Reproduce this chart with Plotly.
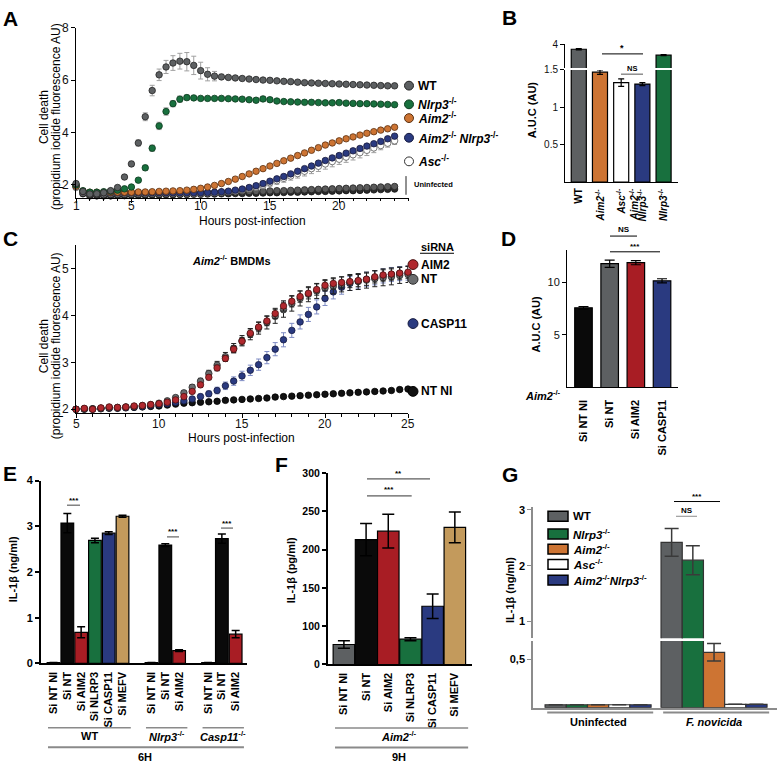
import plotly.graph_objects as go

W, H = 781, 771
FONT = "Liberation Sans, Arial, sans-serif"


def fx(x):
    return x / W


def fy(y):
    return 1 - y / H


# ---------------- Panel A data (hours 1..24, every 0.5 h) ----------------
HOURS_A = [1 + 0.5 * i for i in range(47)]
A_TICKS = [1, 5, 10, 15, 20]
WT_A = [2.05, 1.75, 1.65, 1.66, 1.70, 1.78, 1.90, 2.30, 2.80, 3.60,
        4.60, 5.60, 6.20, 6.50, 6.65, 6.72, 6.70, 6.56, 6.36, 6.22,
        6.15, 6.12, 6.10, 6.08, 6.06, 6.04, 6.02, 6.00, 5.99, 5.97,
        5.95, 5.94, 5.92, 5.90, 5.89, 5.88, 5.87, 5.86, 5.85, 5.84,
        5.83, 5.82, 5.81, 5.80, 5.79, 5.78, 5.78]
WT_A_ERR = [0.05, 0.05, 0.04, 0.04, 0.04, 0.05, 0.06, 0.08, 0.10, 0.12,
            0.15, 0.20, 0.22, 0.25, 0.28, 0.30, 0.35, 0.35, 0.32, 0.25,
            0.18, 0.10, 0.06, 0.05, 0.05, 0.05, 0.05, 0.05, 0.05, 0.05,
            0.05, 0.05, 0.05, 0.05, 0.05, 0.05, 0.05, 0.05, 0.05, 0.05,
            0.05, 0.05, 0.05, 0.05, 0.05, 0.05, 0.05]
NLRP3_A = [2.00, 1.78, 1.72, 1.72, 1.74, 1.76, 1.80, 1.85, 1.92, 2.18,
           2.65, 3.40, 4.25, 4.80, 5.10, 5.27, 5.33, 5.32, 5.30, 5.30,
           5.30, 5.30, 5.29, 5.28, 5.27, 5.25, 5.23, 5.28, 5.25, 5.20,
           5.18, 5.17, 5.16, 5.15, 5.15, 5.14, 5.13, 5.13, 5.14, 5.12,
           5.11, 5.10, 5.10, 5.09, 5.08, 5.07, 5.06]
NLRP3_A_ERR = [0.04, 0.04, 0.03, 0.03, 0.03, 0.03, 0.04, 0.05, 0.06, 0.08,
               0.10, 0.12, 0.14, 0.14, 0.12, 0.12, 0.10, 0.08, 0.07, 0.06,
               0.06, 0.06, 0.06, 0.06, 0.06, 0.06, 0.08, 0.10, 0.08, 0.06,
               0.06, 0.06, 0.06, 0.06, 0.06, 0.06, 0.06, 0.06, 0.06, 0.06,
               0.06, 0.06, 0.06, 0.06, 0.06, 0.06, 0.06]
AIM2_A = [1.95, 1.76, 1.72, 1.72, 1.72, 1.72, 1.72, 1.72, 1.72, 1.73,
          1.73, 1.74, 1.75, 1.76, 1.77, 1.78, 1.80, 1.83, 1.87, 1.92,
          1.98, 2.05, 2.13, 2.22, 2.32, 2.42, 2.52, 2.62, 2.72, 2.82,
          2.92, 3.02, 3.12, 3.22, 3.32, 3.42, 3.52, 3.60, 3.68, 3.76,
          3.83, 3.90, 3.97, 4.03, 4.09, 4.14, 4.20]
AIM2_A_ERR = 0.05
AN_A = [1.95, 1.74, 1.70, 1.70, 1.70, 1.70, 1.70, 1.70, 1.70, 1.70,
        1.70, 1.70, 1.70, 1.70, 1.70, 1.70, 1.70, 1.70, 1.70, 1.71,
        1.72, 1.74, 1.76, 1.80, 1.84, 1.90, 1.97, 2.05, 2.14, 2.23,
        2.32, 2.42, 2.52, 2.62, 2.72, 2.83, 2.93, 3.03, 3.12, 3.21,
        3.30, 3.39, 3.48, 3.57, 3.66, 3.76, 3.86]
AN_A_ERR = 0.06
ASC_A = [1.90, 1.72, 1.68, 1.68, 1.68, 1.68, 1.68, 1.68, 1.68, 1.68,
         1.68, 1.68, 1.68, 1.68, 1.68, 1.68, 1.68, 1.68, 1.68, 1.69,
         1.70, 1.72, 1.74, 1.77, 1.81, 1.86, 1.92, 1.99, 2.08, 2.16,
         2.25, 2.34, 2.43, 2.52, 2.62, 2.71, 2.80, 2.89, 2.98, 3.06,
         3.15, 3.23, 3.32, 3.41, 3.50, 3.59, 3.68]
ASC_A_ERR = [0.04, 0.03, 0.03, 0.03, 0.03, 0.03, 0.03, 0.03, 0.03, 0.03,
             0.03, 0.03, 0.03, 0.03, 0.03, 0.03, 0.03, 0.04, 0.04, 0.05,
             0.05, 0.06, 0.07, 0.08, 0.09, 0.10, 0.11, 0.12, 0.13, 0.14,
             0.15, 0.16, 0.17, 0.18, 0.19, 0.20, 0.20, 0.20, 0.20, 0.20,
             0.20, 0.20, 0.20, 0.18, 0.16, 0.15, 0.14]
UNINF1_A = [2.00, 1.70, 1.62, 1.62, 1.62, 1.63, 1.63, 1.64, 1.64, 1.65,
            1.65, 1.66, 1.66, 1.67, 1.67, 1.68, 1.68, 1.69, 1.70, 1.70,
            1.71, 1.72, 1.72, 1.73, 1.74, 1.75, 1.75, 1.76, 1.77, 1.78,
            1.78, 1.79, 1.80, 1.81, 1.82, 1.83, 1.84, 1.85, 1.86, 1.87,
            1.88, 1.89, 1.90, 1.91, 1.92, 1.93, 1.94]
UNINF2_A = [1.95, 1.66, 1.58, 1.58, 1.58, 1.58, 1.59, 1.59, 1.60, 1.60,
            1.60, 1.61, 1.61, 1.62, 1.62, 1.63, 1.63, 1.64, 1.64, 1.65,
            1.65, 1.66, 1.66, 1.67, 1.67, 1.68, 1.68, 1.69, 1.70, 1.70,
            1.71, 1.72, 1.72, 1.73, 1.74, 1.75, 1.75, 1.76, 1.77, 1.78,
            1.78, 1.79, 1.80, 1.81, 1.82, 1.83, 1.84]
UNINF_A_ERR = 0.05

# ---------------- Panel B data ----------------
B_GENOTYPES = ["WT", "Aim2", "Asc", "Aim2 Nlrp3", "Nlrp3"]
B_AUC = [3.52, 1.47, 1.33, 1.31, 2.94]
B_ERR = [0.06, 0.03, 0.05, 0.02, 0.05]

# ---------------- Panel C data (hours 5..25, every 0.5 h) ----------------
HOURS_C = [5 + 0.5 * i for i in range(41)]
C_TICKS = [5, 10, 15, 20, 25]
RED_C = [2.00, 2.02, 2.00, 2.03, 2.05, 2.04, 2.05, 2.07, 2.08, 2.10,
         2.12, 2.15, 2.20, 2.27, 2.38, 2.52, 2.68, 2.88, 3.08, 3.28,
         3.45, 3.62, 3.75, 3.88, 4.04, 4.20, 4.30, 4.40, 4.47, 4.55,
         4.64, 4.68, 4.70, 4.72, 4.74, 4.77, 4.82, 4.86, 4.88, 4.90,
         4.92]
RED_C_ERR = [0.02, 0.02, 0.02, 0.02, 0.02, 0.02, 0.02, 0.02, 0.02, 0.02,
             0.03, 0.03, 0.03, 0.04, 0.04, 0.05, 0.05, 0.06, 0.06, 0.07,
             0.08, 0.09, 0.10, 0.10, 0.11, 0.11, 0.12, 0.12, 0.12, 0.12,
             0.12, 0.12, 0.12, 0.13, 0.13, 0.13, 0.13, 0.13, 0.13, 0.13,
             0.13]
GREY_C = [2.00, 2.01, 2.01, 2.02, 2.04, 2.04, 2.05, 2.06, 2.08, 2.10,
          2.13, 2.18, 2.25, 2.35, 2.47, 2.60, 2.76, 2.94, 3.12, 3.30,
          3.46, 3.60, 3.73, 3.85, 3.98, 4.12, 4.25, 4.36, 4.45, 4.52,
          4.58, 4.62, 4.66, 4.70, 4.72, 4.75, 4.78, 4.80, 4.82, 4.85,
          4.87]
GREY_C_ERR = [0.02, 0.02, 0.02, 0.02, 0.02, 0.02, 0.02, 0.02, 0.02, 0.02,
              0.03, 0.03, 0.04, 0.04, 0.05, 0.06, 0.07, 0.08, 0.09, 0.10,
              0.11, 0.12, 0.13, 0.14, 0.15, 0.16, 0.16, 0.16, 0.16, 0.16,
              0.16, 0.16, 0.16, 0.17, 0.17, 0.17, 0.17, 0.17, 0.17, 0.17,
              0.17]
BLUE_C = [2.00, 2.01, 2.00, 2.02, 2.03, 2.03, 2.04, 2.05, 2.06, 2.08,
          2.10, 2.12, 2.15, 2.18, 2.22, 2.27, 2.33, 2.40, 2.50, 2.60,
          2.71, 2.83, 2.95, 3.10, 3.28, 3.48, 3.68, 3.86, 4.02, 4.18,
          4.36, 4.50, 4.60, 4.68, 4.73, 4.77, 4.80, 4.84, 4.87, 4.89,
          4.90]
BLUE_C_ERR = [0.02, 0.02, 0.02, 0.02, 0.02, 0.02, 0.02, 0.02, 0.02, 0.02,
              0.02, 0.03, 0.03, 0.04, 0.04, 0.05, 0.06, 0.07, 0.08, 0.09,
              0.10, 0.11, 0.12, 0.13, 0.14, 0.15, 0.15, 0.15, 0.15, 0.15,
              0.15, 0.15, 0.15, 0.15, 0.15, 0.15, 0.15, 0.15, 0.15, 0.15,
              0.15]
BLACK_C = [2.00, 2.00, 2.01, 2.01, 2.02, 2.02, 2.03, 2.04, 2.05, 2.06,
           2.07, 2.09, 2.11, 2.13, 2.14, 2.15, 2.16, 2.17, 2.19, 2.20,
           2.21, 2.22, 2.23, 2.24, 2.26, 2.27, 2.28, 2.29, 2.30, 2.31,
           2.32, 2.33, 2.34, 2.35, 2.36, 2.37, 2.38, 2.39, 2.40, 2.42,
           2.43]
BLACK_C_ERR = 0.03

# ---------------- Panel D data ----------------
D_LABELS = ["Si NT NI", "Si NT", "Si AIM2", "Si CASP11"]
D_AUC = [7.58, 11.78, 11.88, 10.15]
D_ERR = [0.12, 0.35, 0.20, 0.20]

# ---------------- Panel E data ----------------
E_GROUPS = ["WT", "Nlrp3", "Casp11"]
E_LABELS = [["Si NT NI", "Si NT", "Si AIM2", "Si NLRP3", "Si CASP11", "Si MEFV"],
            ["Si NT NI", "Si NT", "Si AIM2"],
            ["Si NT NI", "Si NT", "Si AIM2"]]
E_VALUES = [[0.02, 3.07, 0.68, 2.69, 2.85, 3.22],
            [0.02, 2.59, 0.28],
            [0.02, 2.73, 0.64]]
E_ERR = [[0.0, 0.21, 0.12, 0.05, 0.03, 0.02],
         [0.0, 0.03, 0.02],
         [0.0, 0.10, 0.08]]

# ---------------- Panel F data ----------------
F_LABELS = ["Si NT NI", "Si NT", "Si AIM2", "Si NLRP3", "Si CASP11", "Si MEFV"]
F_VALUES = [76, 213, 224, 83, 126, 229]
F_ERR = [5, 21, 22, 2, 16, 20]
F_TICKVALS = [50, 100, 150, 200, 250, 300]
F_TICKTEXT = ["0", "100", "150", "200", "250", "300"]

# ---------------- Panel G data ----------------
G_GENOTYPES = ["WT", "Nlrp3", "Aim2", "Asc", "Aim2Nlrp3"]
G_CONDITIONS = ["Uninfected", "F. novicida"]
G_UNINF = [0.03, 0.03, 0.03, 0.03, 0.03]
G_FNOV = [2.42, 2.10, 0.57, 0.035, 0.035]
G_FNOV_ERR = [0.25, 0.26, 0.09, None, None]

# ---------------- colours ----------------
C_GREY = "#5d6062"
C_GREEN = "#18703e"
C_ORANGE = "#cd7433"
C_NAVY = "#2a3a80"
C_RED = "#a81d24"
C_TAN = "#c39a5c"

fig = go.Figure()


def curve(x, y, err, fill, edge, errcolor, xa, ya, size=6.5, lw=0.8):
    if isinstance(err, (list, tuple)):
        e = dict(type="data", array=err, color=errcolor, thickness=1, width=2.5)
    else:
        e = dict(type="constant", value=err, color=errcolor, thickness=1, width=2.5)
    fig.add_trace(go.Scatter(x=x, y=y, mode="markers", xaxis=xa, yaxis=ya,
                             marker=dict(size=size, color=fill, line=dict(color=edge, width=lw)),
                             error_y=e, cliponaxis=False, showlegend=False, hoverinfo="skip"))


def bars(x, y, colors, err, xa, ya, width, errcolor="black", lcolor="black", lw=1.2,
         errw=4, errt=1.2):
    kw = {}
    if err is not None:
        kw["error_y"] = dict(type="data", array=err, color=errcolor, thickness=errt, width=errw)
    fig.add_trace(go.Bar(x=x, y=y, width=width, xaxis=xa, yaxis=ya,
                         marker=dict(color=colors, line=dict(color=lcolor, width=lw)),
                         showlegend=False, hoverinfo="skip", **kw))


# ---- A
curve(HOURS_A, UNINF2_A, UNINF_A_ERR, "#2b2b2b", "#111111", "#888888", "x", "y")
curve(HOURS_A, UNINF1_A, UNINF_A_ERR, "#5a5a5a", "#222222", "#999999", "x", "y")
curve(HOURS_A, ASC_A, ASC_A_ERR, "white", "#555555", "#a0a0a0", "x", "y")
curve(HOURS_A, AN_A, AN_A_ERR, C_NAVY, "#1a1a3a", "#a0a0a0", "x", "y")
curve(HOURS_A, AIM2_A, AIM2_A_ERR, C_ORANGE, "#5a3010", "#a0a0a0", "x", "y")
curve(HOURS_A, NLRP3_A, NLRP3_A_ERR, C_GREEN, "#0c3a1e", "#a0a0a0", "x", "y")
curve(HOURS_A, WT_A, WT_A_ERR, C_GREY, "#252525", "#a0a0a0", "x", "y")

# ---- B (broken axis: lower y2, upper y9)
B_X = list(range(len(B_GENOTYPES)))
B_COLORS = [C_GREY, C_ORANGE, "white", C_NAVY, C_GREEN]
bars(B_X, B_AUC, B_COLORS, B_ERR, "x2", "y2", 0.71, errw=3, lw=1.2)
bars(B_X, B_AUC, B_COLORS, B_ERR, "x2", "y9", 0.71, errw=3, lw=1.2)

# ---- C
curve(HOURS_C, BLACK_C, BLACK_C_ERR, "#111111", "#000000", "#000000", "x3", "y3")
curve(HOURS_C, BLUE_C, BLUE_C_ERR, C_NAVY, "#151a40", "#7f8cc4", "x3", "y3")
curve(HOURS_C, GREY_C, GREY_C_ERR, "#6a6c6e", "#2a2a2a", "#222222", "x3", "y3")
curve(HOURS_C, RED_C, RED_C_ERR, "#b0282e", "#4a1010", "#222222", "x3", "y3")

# ---- D
D_X = list(range(len(D_LABELS)))
bars(D_X, D_AUC, ["#0a0a0a", C_GREY, C_RED, C_NAVY], D_ERR, "x4", "y4", 0.67, errw=5)

# ---- E
E_GAP = 1.1
E_POS, E_TXT, E_VAL, E_ER, E_COL = [], [], [], [], []
E_COLOR_BY_LABEL = {"Si NT NI": "#0a0a0a", "Si NT": "#0a0a0a", "Si AIM2": C_RED,
                    "Si NLRP3": C_GREEN, "Si CASP11": C_NAVY, "Si MEFV": C_TAN}
E_GROUP_SPAN = []
off = 0.0
for labs, vals, errs in zip(E_LABELS, E_VALUES, E_ERR):
    start = off
    for i, (lab, v, er) in enumerate(zip(labs, vals, errs)):
        E_POS.append(off + i)
        E_TXT.append("<b>" + lab + "</b>")
        E_VAL.append(v)
        E_ER.append(er if er > 0 else None)
        E_COL.append(E_COLOR_BY_LABEL[lab])
    E_GROUP_SPAN.append((start, off + len(labs) - 1))
    off += len(labs) + E_GAP
bars(E_POS, E_VAL, E_COL, E_ER, "x5", "y5", 0.92, errw=4, errt=1.5)

# ---- F
F_X = list(range(len(F_LABELS)))
bars(F_X, F_VALUES, [C_GREY, "#0a0a0a", C_RED, C_GREEN, C_NAVY, C_TAN], F_ERR,
     "x6", "y6", 0.97, errw=6, errt=1.5)

# ---- G (broken axis: lower y7, upper y8)
G_STEP = 5.47
G_COLORS = [C_GREY, C_GREEN, C_ORANGE, "white", C_NAVY]
for i, g in enumerate(G_GENOTYPES):
    xs = [i + k * G_STEP for k in range(len(G_CONDITIONS))]
    ys = [G_UNINF[i], G_FNOV[i]]
    er = [None, G_FNOV_ERR[i]]
    for ya in ("y7", "y8"):
        bars(xs, ys, G_COLORS[i], er, "x7", ya, 1.0, errcolor="#3a3a3a",
             lcolor="#333333", lw=1.2, errw=7, errt=1.5)


# ---------------- axes ----------------
def xax(a, b, rng, anchor, **kw):
    d = dict(domain=[fx(a), fx(b)], range=rng, anchor=anchor, showgrid=False,
             zeroline=False, showline=True, linecolor="black", linewidth=1,
             ticks="outside", ticklen=4, tickcolor="black", fixedrange=True,
             tickfont=dict(family=FONT, size=12, color="#111111"))
    d.update(kw)
    return d


def yax(bottom, top, rng, anchor, **kw):
    d = dict(domain=[fy(bottom), fy(top)], range=rng, anchor=anchor, showgrid=False,
             zeroline=False, showline=True, linecolor="black", linewidth=1,
             ticks="outside", ticklen=4, tickcolor="black", fixedrange=True,
             tickfont=dict(family=FONT, size=12, color="#111111"))
    d.update(kw)
    return d


BOLD11 = dict(family=FONT, size=11, color="black", weight="bold")

layout_axes = dict(
    xaxis=xax(76, 409, [1, 25.04], "y", tickvals=A_TICKS, showticklabels=False,
              minor=dict(tickmode="linear", tick0=1, dtick=1, ticks="outside",
                         ticklen=2.5, tickcolor="black")),
    yaxis=yax(194, 21, [1.51, 8], "x", tickvals=[2, 4, 6, 8]),
    xaxis2=xax(565, 678, [-0.65, 4.68], "y2", ticks="", showticklabels=False),
    yaxis2=yax(178, 64, [0, 1.5], "x2", tickvals=[0.5, 1, 1.5],
               ticktext=["0.5", "1", "1.5"], tickfont=dict(family=FONT, size=10, color="#111")),
    yaxis9=yax(62, 38, [1.69, 4], "x2", tickvals=[4],
               tickfont=dict(family=FONT, size=10, color="#111")),
    xaxis3=xax(76, 408, [5, 25], "y3", tickvals=C_TICKS, showticklabels=False,
               minor=dict(tickmode="linear", tick0=5, dtick=1, ticks="outside",
                          ticklen=2.5, tickcolor="black")),
    yaxis3=yax(413, 242, [1.92, 5.5], "x3", tickvals=[2, 3, 4, 5]),
    xaxis4=xax(567, 678, [-0.63, 3.61], "y4", ticks="", tickvals=D_X,
               ticktext=["<b>" + t + "</b>" for t in D_LABELS], tickangle=-90,
               tickfont=BOLD11, ticklabelstandoff=7),
    yaxis4=yax(387, 247, [0, 13.1], "x4", tickvals=[5, 10],
               tickfont=dict(family=FONT, size=11, color="#111")),
    xaxis5=xax(40.7, 246.7, [-0.93, 14.0], "y5", ticks="", linewidth=2,
               tickvals=E_POS, ticktext=E_TXT, tickangle=-90, tickfont=BOLD11,
               ticklabelstandoff=2),
    yaxis5=yax(667.7, 481.7, [0, 4], "x5", tickvals=[0, 1, 2, 3, 4], linewidth=1.5,
               tickwidth=1.5, tickfont=BOLD11),
    xaxis6=xax(327.7, 471.7, [-0.73, 5.76], "y6", ticks="", linewidth=2,
               tickvals=F_X, ticktext=["<b>" + t + "</b>" for t in F_LABELS],
               tickangle=-90, tickfont=BOLD11, ticklabelstandoff=2),
    yaxis6=yax(668.7, 474, [50, 300], "x6", tickvals=F_TICKVALS, ticktext=F_TICKTEXT,
               linewidth=1.5, tickwidth=1.5,
               tickfont=dict(family=FONT, size=10.5, color="black", weight="bold")),
    xaxis7=xax(533, 777, [-1.07, 10.44], "y7", ticks="", showticklabels=False,
               linecolor="#8c8c8c", linewidth=2),
    yaxis7=yax(712.7, 645, [0, 0.685], "x7", tickvals=[0.5], ticktext=["0,5"],
               linecolor="#8c8c8c", linewidth=1.5, tickcolor="#8c8c8c", tickfont=BOLD11),
    yaxis8=yax(642, 509, [0.70, 3.046], "x7", tickvals=[1, 2, 3],
               linecolor="#8c8c8c", linewidth=1.5, tickcolor="#8c8c8c", tickfont=BOLD11),
)


# ---------------- annotations & shapes ----------------
ANN = []
SHP = []


def ann(x, y, text, size=11, bold=False, color="black", xanchor="center",
        yanchor="middle", angle=0, xref="paper"):
    ANN.append(dict(x=(fx(x) if xref == "paper" else x), y=fy(y), xref=xref, yref="paper",
                    text=text, showarrow=False, xanchor=xanchor, yanchor=yanchor,
                    textangle=angle,
                    font=dict(family=FONT, size=size, color=color,
                              weight="bold" if bold else "normal")))


def line(x0, x1, y0, y1, color="black", w=1, xref="paper"):
    SHP.append(dict(type="line", xref=xref, yref="paper",
                    x0=(fx(x0) if xref == "paper" else x0),
                    x1=(fx(x1) if xref == "paper" else x1),
                    y0=fy(y0), y1=fy(y1), line=dict(color=color, width=w)))


def dot(cx, cy, r, fill, edge):
    SHP.append(dict(type="circle", xref="paper", yref="paper", x0=fx(cx - r), x1=fx(cx + r),
                    y0=fy(cy + r), y1=fy(cy - r), fillcolor=fill,
                    line=dict(color=edge, width=1)))


def box(x0, x1, y0, y1, fill):
    SHP.append(dict(type="rect", xref="paper", yref="paper", x0=fx(x0), x1=fx(x1),
                    y0=fy(y1), y1=fy(y0), fillcolor=fill,
                    line=dict(color="black", width=1.5)))


def gene(name):
    return "<i>" + name + "</i><sup>-/-</sup>"


# panel letters
for L, x, y in [("A", 10, 12), ("B", 509, 11), ("C", 10, 235), ("D", 508, 235),
                ("E", 10, 475), ("F", 281, 465), ("G", 510, 476)]:
    ann(x, y, L, size=21, bold=True)

# x tick labels of the time-course panels (placed on the axis coordinates)
for t in A_TICKS:
    ann(t, 202.5, str(t), size=12, color="#111", xref="x")
for t in C_TICKS:
    ann(t, 424.5, str(t), size=12, color="#111", xref="x3")

# A titles
ann(252, 218, "Hours post-infection", size=12)
ann(44, 112, "Cell death", size=12, angle=-90)
ann(56, 112, "(propidium iodide fluorescence AU)", size=12, angle=-90)
# A legend
for (lab, cy, fill, edge) in [("WT", 80, C_GREY, "#222"),
                              (gene("Nlrp3"), 99, C_GREEN, "#0c3a1e"),
                              (gene("Aim2"), 113, C_ORANGE, "#5a3010"),
                              (gene("Aim2") + " " + gene("Nlrp3"), 133, C_NAVY, "#151a40"),
                              (gene("Asc"), 157, "white", "#333")]:
    dot(409, cy, 4.5, fill, edge)
    ann(416, cy, lab, size=12, bold=True, xanchor="left")
line(406, 406, 172, 191, color="#222", w=1)
ann(412, 181, "Uninfected", size=7.5, bold=True, xanchor="left")

# B
ann(532, 105, "A.U.C (AU)", size=11, bold=True, angle=-90)
B_TICK_TXT = ["<b>WT</b>", "<b>" + gene("Aim2") + "</b>", "<b>" + gene("Asc") + "</b>",
              None, "<b>" + gene("Nlrp3") + "</b>"]
for i, t in enumerate(B_TICK_TXT):
    if t is None:
        for dx, tt in [(-0.38, gene("Aim2")), (-0.02, gene("Nlrp3"))]:
            ann(i + dx, 182, "<b>" + tt + "</b>", size=10, yanchor="top", angle=-90, xref="x2")
    else:
        ann(i, 182, t, size=10, yanchor="top", angle=-90, xref="x2")
line(602, 643, 47.7, 47.7)
ann(622, 42, "*", size=9, bold=True)
line(621, 643, 68.3, 68.3, color="#555")
ann(632, 62.5, "NS", size=7.5, bold=True)

# C
ann(242, 438.5, "Hours post-infection", size=12)
ann(44, 345, "Cell death", size=12, angle=-90)
ann(56, 345, "(propidium iodide fluorescence AU)", size=12, angle=-90)
ann(231, 257, gene("Aim2") + " BMDMs", size=11, bold=True)
ann(437, 244, "siRNA", size=11, bold=True)
line(420, 454, 250.5, 250.5, w=1)
for (lab, cy, fill, edge) in [("AIM2", 262, "#b0282e", "#4a1010"),
                              ("NT", 277, "#6a6c6e", "#2a2a2a"),
                              ("CASP11", 322, C_NAVY, "#151a40"),
                              ("NT NI", 391, "#111", "#000")]:
    dot(413, cy, 5, fill, edge)
    ann(419, cy, lab, size=12, bold=True, xanchor="left")

# D
ann(536, 323, "A.U.C (AU)", size=11, bold=True, angle=-90)
ann(563, 395, gene("Aim2"), size=11, bold=True, xanchor="right")
line(610, 637, 233, 233)
ann(623.5, 226.5, "NS", size=8, bold=True)
line(610, 660, 249, 249)
ann(635, 243.5, "***", size=8, bold=True)

# E
ann(13, 572, "IL-1β (ng/ml)", size=11, bold=True, angle=-90)
for (x0, x1, y) in [(67, 80, 506.7), (167, 179, 539), (221, 233, 530)]:
    line(x0, x1, y, y, color="#444")
    ann((x0 + x1) / 2, y - 5, "***", size=8, bold=True)
E_GROUP_TXT = ["WT", gene("Nlrp3"), gene("Casp11")]
for (s, e), t in zip(E_GROUP_SPAN, E_GROUP_TXT):
    line(s - 0.4, e + 0.6, 733, 733, color="#8a8a8a", w=1.5, xref="x5")
    ann((s + e) / 2 + 0.1, 742, t, size=11, bold=True, xref="x5")
line(E_GROUP_SPAN[0][0] - 0.4, E_GROUP_SPAN[-1][1] + 0.6, 753, 753, color="#8a8a8a",
     w=2, xref="x5")
ann((E_GROUP_SPAN[0][0] + E_GROUP_SPAN[-1][1]) / 2, 763, "6H", size=11, bold=True,
    xref="x5")

# F
ann(291, 573, "IL-1β (pg/ml)", size=11, bold=True, angle=-90)
line(367, 430, 480, 480, color="#333")
ann(398.5, 474, "**", size=8, bold=True)
line(367, 411.7, 497.3, 497.3, color="#333")
ann(389, 491, "***", size=8, bold=True)
line(-0.4, len(F_LABELS) - 0.4, 733.3, 733.3, color="#8a8a8a", w=1.5, xref="x6")
ann((len(F_LABELS) - 1) / 2, 742, gene("Aim2"), size=11, bold=True, xref="x6")
line(-0.4, len(F_LABELS) - 0.4, 753.3, 753.3, color="#8a8a8a", w=2, xref="x6")
ann((len(F_LABELS) - 1) / 2, 763, "9H", size=11, bold=True, xref="x6")

# G
ann(510, 593, "IL-1β (ng/ml)", size=11, bold=True, angle=-90)
G_LEG_Y = [518, 536, 551.5, 567, 583]
G_LEG_TXT = ["WT", gene("Nlrp3"), gene("Aim2"), gene("Asc"), gene("Aim2") + gene("Nlrp3")]
for cy, fill, t in zip(G_LEG_Y, G_COLORS, G_LEG_TXT):
    box(548, 568, cy - 5, cy + 5, fill)
    ann(571, cy, t, size=11.5, bold=True, xanchor="left")
for k, cond in enumerate(G_CONDITIONS):
    s = k * G_STEP
    line(s - 0.4, s + len(G_GENOTYPES) - 0.4, 717.7, 717.7, color="#8a8a8a", w=2, xref="x7")
    txt = "<i>F. novicida</i>" if k == 1 else cond
    ann(s + (len(G_GENOTYPES) - 1) / 2, 727, txt, size=11, bold=True, xref="x7")
line(674, 720, 503, 503)
ann(697, 497.5, "***", size=8, bold=True)
line(676, 697, 518, 518, color="#8a8a8a")
ann(686.5, 512, "NS", size=8, bold=True)

fig.update_layout(
    width=W, height=H, autosize=False,
    margin=dict(l=0, r=0, t=0, b=0, pad=0),
    paper_bgcolor="white", plot_bgcolor="white",
    barmode="overlay", showlegend=False,
    font=dict(family=FONT, color="black"),
    annotations=ANN, shapes=SHP,
    **layout_axes,
)

PAGE_FIX = ("document.documentElement.style.margin='0';document.body.style.margin='0';"
            "document.body.style.padding='0';document.body.style.overflow='hidden';"
            "document.documentElement.style.overflow='hidden';"
            "var d=document.getElementById('{plot_id}');"
            "d.parentElement.style.fontSize='0';d.parentElement.style.lineHeight='0';"
            "d.style.display='block';")

fig.write_html("out.html", include_plotlyjs=True, config={"displayModeBar": False},
               post_script=PAGE_FIX)
